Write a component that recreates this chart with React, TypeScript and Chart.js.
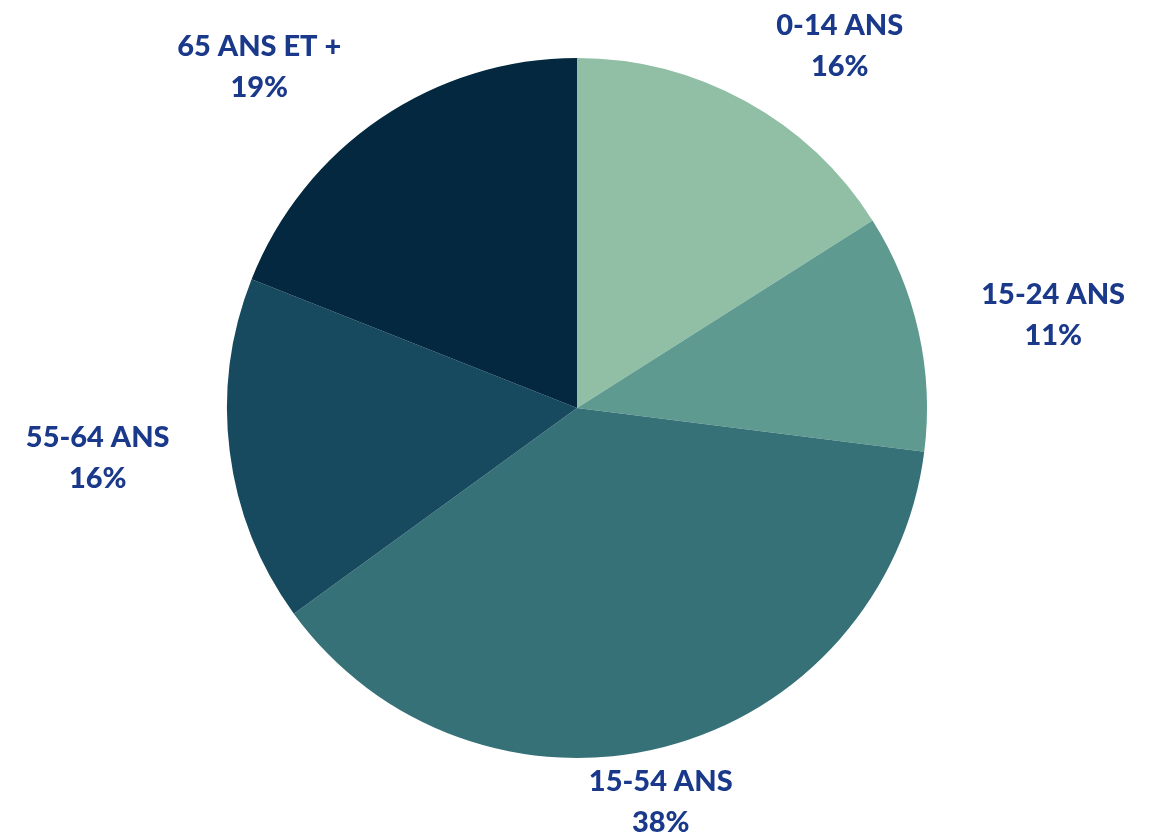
import React, { useEffect, useRef } from "react";
import { Chart, registerables } from "chart.js";

Chart.register(...registerables);

const categories = ["0-14 ANS", "15-24 ANS", "15-54 ANS", "55-64 ANS", "65 ANS ET +"];
const values = [16, 11, 38, 16, 19];
const percentLabels = ["16%", "11%", "38%", "16%", "19%"];
const sliceColors = ["#90bfa6", "#5f9a90", "#367178", "#174a5e", "#03283f"];

// label placement style: distance (in radii) and angle nudge (degrees) from the slice mid-angle
const labelDistance = [1.277, 1.386, 1.151, 1.377, 1.331];
const labelAngleNudge = [7.2, 1.6, 2.4, 1.2, -8.8];

const labelPlugin = {
  id: "outerLabels",
  afterDatasetsDraw(chart: any) {
    const ctx = chart.ctx;
    const meta = chart.getDatasetMeta(0);
    ctx.save();
    ctx.fillStyle = "#1a398a";
    ctx.font = "900 29px Lato";
    ctx.textAlign = "center";
    ctx.textBaseline = "middle";
    meta.data.forEach((arc: any, i: number) => {
      const { x, y, startAngle, endAngle, outerRadius } = arc.getProps(
        ["x", "y", "startAngle", "endAngle", "outerRadius"],
        true
      );
      const mid = (startAngle + endAngle) / 2 + (labelAngleNudge[i] * Math.PI) / 180;
      const d = outerRadius * labelDistance[i];
      const cx = x + Math.cos(mid) * d;
      const cy = y + Math.sin(mid) * d;
      ctx.fillText(categories[i], cx, cy - 20.5);
      ctx.fillText(percentLabels[i], cx, cy + 20.5);
    });
    ctx.restore();
  },
};

export default function App() {
  const ref = useRef<HTMLCanvasElement | null>(null);
  useEffect(() => {
    document.body.style.margin = "0";
    const chart = new Chart(ref.current as HTMLCanvasElement, {
      type: "pie",
      data: {
        labels: categories,
        datasets: [
          {
            data: values,
            backgroundColor: sliceColors,
            borderWidth: 0,
          },
        ],
      },
      options: {
        animation: false,
        responsive: false,
        layout: { padding: { top: 58, bottom: 79, left: 227, right: 226 } },
        plugins: { legend: { display: false }, tooltip: { enabled: false } },
      },
      plugins: [labelPlugin],
    });
    return () => chart.destroy();
  }, []);
  return (
    <div style={{ width: 1153, height: 837, background: "#ffffff" }}>
      <canvas ref={ref} width={1153} height={837} style={{ width: 1153, height: 837 }} />
    </div>
  );
}
